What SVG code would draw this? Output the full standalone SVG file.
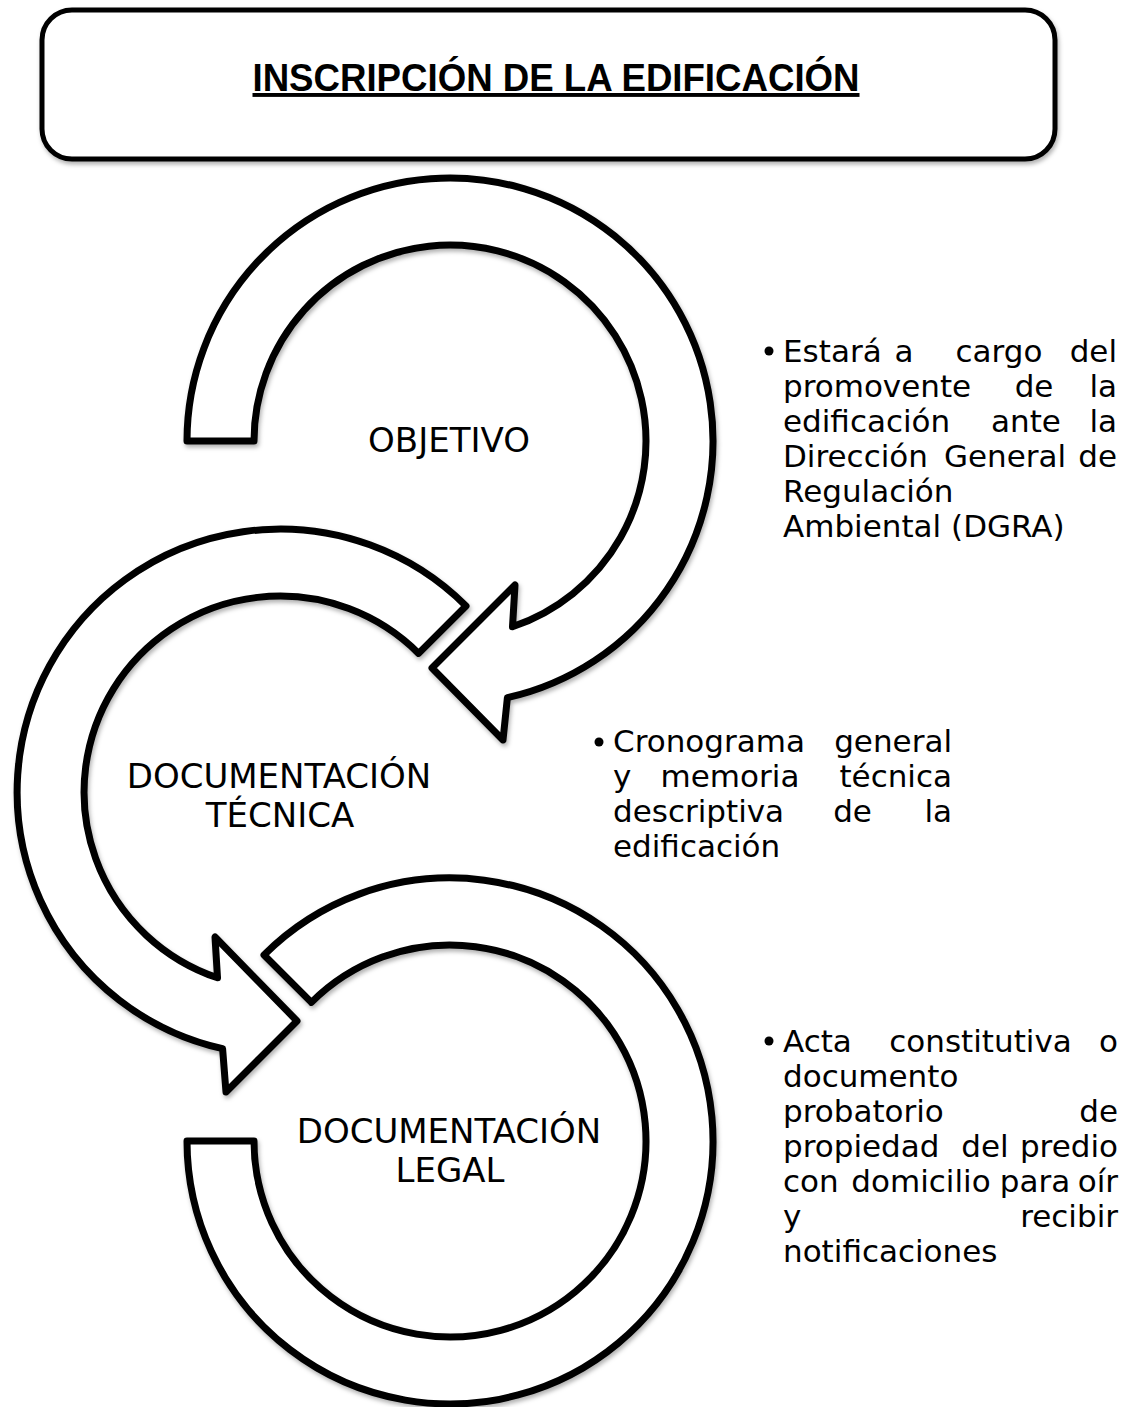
<svg xmlns="http://www.w3.org/2000/svg" width="1128" height="1407" viewBox="0 0 1128 1407">
  <defs>
    <filter id="shadow" x="-10%" y="-10%" width="120%" height="120%">
      <feDropShadow dx="1.5" dy="3" stdDeviation="2.2" flood-color="#000" flood-opacity="0.3"/>
    </filter>
    <style>
      .frame { fill: #fff; stroke: #000; stroke-width: 5; filter: url(#shadow); }
      .arrow { fill: #fff; stroke: #000; stroke-width: 7; stroke-linejoin: round; filter: url(#shadow); }
      .title { font-family: "Liberation Sans", Arial, sans-serif; font-weight: bold; font-size: 39px; fill: #000; text-anchor: middle; text-decoration: underline; }
      .label { font-family: "DejaVu Sans", "Liberation Sans", sans-serif; font-size: 34px; fill: #000; text-anchor: middle; }
      .note { font-family: "DejaVu Sans", "Liberation Sans", sans-serif; font-size: 31px; fill: #000; }
      .mid { text-anchor: middle; }
      .end { text-anchor: end; }
      .dot { fill: #000; }
    </style>
  </defs>

  <rect width="1128" height="1407" fill="#fff"/>

  <!-- heading box -->
  <g id="title">
    <rect class="frame" x="42" y="10" width="1013" height="149" rx="30" ry="30"/>
    <text class="title" x="556" y="91" textLength="607" lengthAdjust="spacingAndGlyphs">INSCRIPCIÓN DE LA EDIFICACIÓN</text>
  </g>

  <!-- circular arrows (each one is a step of the cycle) -->
  <g id="connectors">
    <path id="arrow-legal" class="arrow" d="M311.4,1002.4 L264,955 A263,263 0 1 1 187,1141 L254,1141 A196,196 0 1 0 311.4,1002.4 Z"/>
    <path id="arrow-tecnica" class="arrow" d="M418.6,653.4 L466,606 A263,263 0 1 0 222.6,1048.7 L226,1092 L297,1021 L215,937 L217.5,977.8 A196,196 0 1 1 418.6,653.4 Z"/>
    <path id="arrow-objetivo" class="arrow" d="M254,441 L187,441 A263,263 0 1 1 507.4,697.7 L503,740 L432,668 L515,585 L512.5,626.8 A196,196 0 1 0 254,441 Z"/>
  </g>

  <!-- step 1 -->
  <g id="node-objetivo">
    <text class="label" x="449" y="452">OBJETIVO</text>
  </g>

  <!-- step 2 -->
  <g id="node-tecnica">
    <text class="label" x="279" y="788">DOCUMENTACIÓN</text>
    <text class="label" x="280" y="827">TÉCNICA</text>
  </g>

  <!-- step 3 -->
  <g id="node-legal">
    <text class="label" x="449" y="1143">DOCUMENTACIÓN</text>
    <text class="label" x="450" y="1182">LEGAL</text>
  </g>

  <!-- note for step 1 (justified lines) -->
  <g id="note-objetivo" class="note">
    <circle class="dot" cx="769" cy="351" r="4.5"/>
    <text x="783" y="362">Estará</text>
    <text class="mid" x="904" y="362">a</text>
    <text class="mid" x="999" y="362">cargo</text>
    <text class="end" x="1117" y="362">del</text>
    <text x="783" y="397">promovente</text>
    <text class="mid" x="1034" y="397">de</text>
    <text class="end" x="1117" y="397">la</text>
    <text x="783" y="432">edificación</text>
    <text class="mid" x="1026" y="432">ante</text>
    <text class="end" x="1117" y="432">la</text>
    <text x="783" y="467">Dirección</text>
    <text class="mid" x="1005" y="467">General</text>
    <text class="end" x="1117" y="467">de</text>
    <text x="783" y="502">Regulación</text>
    <text x="783" y="537">Ambiental (DGRA)</text>
  </g>

  <!-- note for step 2 -->
  <g id="note-tecnica" class="note">
    <circle class="dot" cx="599" cy="742" r="4.5"/>
    <text x="613" y="752">Cronograma</text>
    <text class="end" x="952" y="752">general</text>
    <text x="613" y="787">y</text>
    <text class="mid" x="730" y="787">memoria</text>
    <text class="end" x="952" y="787">técnica</text>
    <text x="613" y="822">descriptiva</text>
    <text class="mid" x="852.5" y="822">de</text>
    <text class="end" x="952" y="822">la</text>
    <text x="613" y="857">edificación</text>
  </g>

  <!-- note for step 3 -->
  <g id="note-legal" class="note">
    <circle class="dot" cx="769" cy="1041" r="4.5"/>
    <text x="783" y="1052">Acta</text>
    <text class="mid" x="980.5" y="1052">constitutiva</text>
    <text class="end" x="1118" y="1052">o</text>
    <text x="783" y="1087">documento</text>
    <text x="783" y="1122">probatorio</text>
    <text class="end" x="1118" y="1122">de</text>
    <text x="783" y="1157">propiedad</text>
    <text class="mid" x="985" y="1157">del</text>
    <text class="end" x="1118" y="1157">predio</text>
    <text x="783" y="1192">con</text>
    <text class="mid" x="921" y="1192">domicilio</text>
    <text class="mid" x="1035" y="1192">para</text>
    <text class="end" x="1118" y="1192">oír</text>
    <text x="783" y="1227">y</text>
    <text class="end" x="1118" y="1227">recibir</text>
    <text x="783" y="1262">notificaciones</text>
  </g>
</svg>
